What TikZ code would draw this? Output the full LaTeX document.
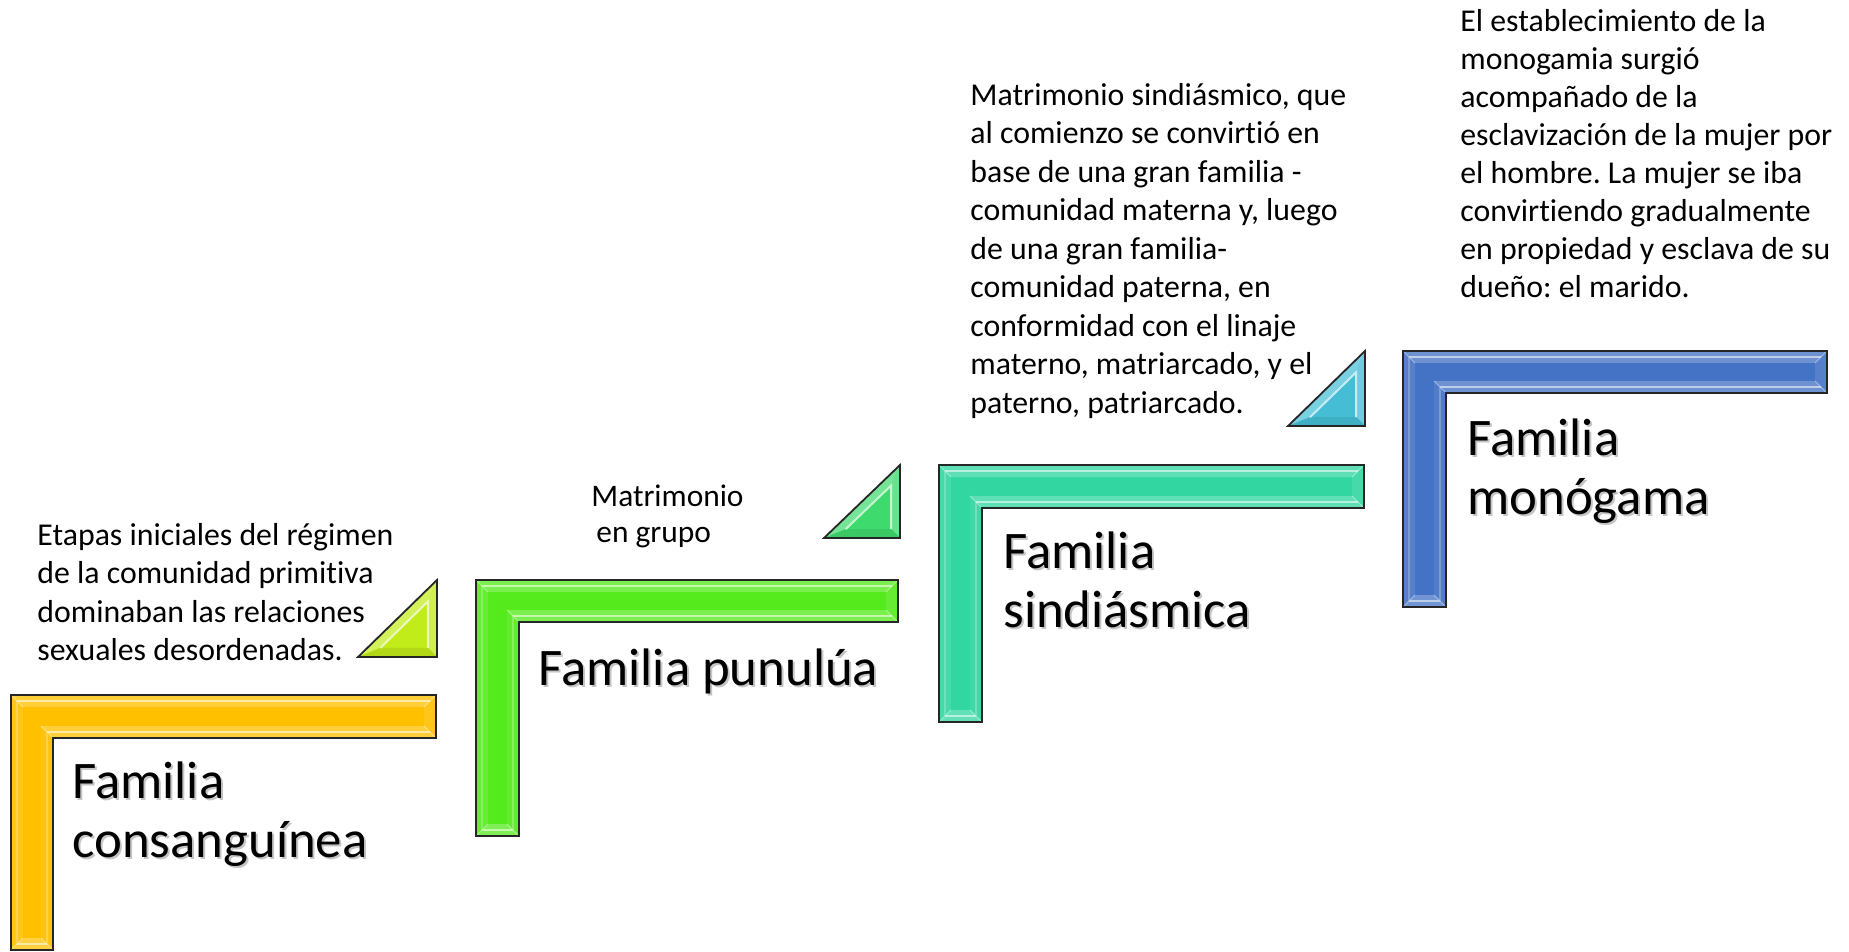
\documentclass[tikz,border=0pt]{standalone}
\usepackage{fontspec}
\setmainfont{Carlito}[Ligatures=NoCommon]
\usetikzlibrary{calc}
\definecolor{cgold}{HTML}{FFC000}
\definecolor{cgreen}{HTML}{55EA1C}
\definecolor{cteal}{HTML}{31D6A1}
\definecolor{cblue}{HTML}{4472C4}
\definecolor{tyel}{HTML}{C2EB1A}
\definecolor{tgrn}{HTML}{3FDA6E}
\definecolor{tcyn}{HTML}{45BED5}
\tikzset{
  title/.style={anchor=north west, inner sep=0pt, align=left, font=\fontsize{26.4}{29.5}\selectfont},
  titleshadow/.style={title, text=black!45, opacity=0.5},
  body/.style={anchor=north west, inner sep=0pt, align=left},
  outline/.style={draw=black!85, line width=0.9pt, line join=miter},
}
% L shaped beveled frame: #1 L, #2 T, #3 R, #4 Ti, #5 Li, #6 B, #7 colour
\newcommand\famframe[7]{%
  \coordinate (p1) at (#1,#2);
  \coordinate (p2) at (#3,#2);
  \coordinate (p3) at (#3,#4);
  \coordinate (p4) at (#5,#4);
  \coordinate (p5) at (#5,#6);
  \coordinate (p6) at (#1,#6);
  \coordinate (q1) at (#1+12,#2+12);
  \coordinate (q2) at (#3-12,#2+12);
  \coordinate (q3) at (#3-12,#4-12);
  \coordinate (q4) at (#5-12,#4-12);
  \coordinate (q5) at (#5-12,#6-12);
  \coordinate (q6) at (#1+12,#6-12);
  \coordinate (m1) at (#1+6,#2+6);
  \coordinate (m2) at (#3-6,#2+6);
  \coordinate (m3) at (#3-6,#4-6);
  \coordinate (m4) at (#5-6,#4-6);
  \coordinate (m5) at (#5-6,#6-6);
  \coordinate (m6) at (#1+6,#6-6);
  \fill[#7] (p1)--(p2)--(p3)--(p4)--(p5)--(p6)--cycle;
  \fill[#7!78!white] (p1)--(p2)--(q2)--(q1)--cycle;
  \fill[#7!78!white] (p3)--(p4)--(q4)--(q3)--cycle;
  \fill[#7!75!white] (p5)--(p6)--(q6)--(q5)--cycle;
  \fill[#7!90!white] (p2)--(p3)--(q3)--(q2)--cycle;
  \fill[#7!90!white] (p6)--(p1)--(q1)--(q6)--cycle;
  \fill[#7!93!white] (p4)--(p5)--(q5)--(q4)--cycle;
  \draw[#7!35!white, line width=1.3pt] (m1)--(m2) (m3)--(m4) (m5)--(m6);
  \draw[#7!70!white, line width=0.8pt] (m6)--(m1) (m4)--(m5);
  \draw[white, opacity=0.45, line width=0.5pt] (p1)--(q1) (p2)--(q2) (p3)--(q3) (p4)--(q4) (p5)--(q5) (p6)--(q6);
  \draw[outline] (p1)--(p2)--(p3)--(p4)--(p5)--(p6)--cycle;
}
% right triangle: #1 xl, #2 xr, #3 yt, #4 yb, #5 inradius, #6 colour
\newcommand\famtri[6]{%
  \coordinate (ta) at (#1,#4);
  \coordinate (tb) at (#2,#4);
  \coordinate (tc) at (#2,#3);
  \coordinate (ti) at (#2-#5,#4-#5);
  \coordinate (ua) at ($(ti)!0.6!(ta)$);
  \coordinate (ub) at ($(ti)!0.6!(tb)$);
  \coordinate (uc) at ($(ti)!0.6!(tc)$);
  \fill[#6] (ta)--(tb)--(tc)--cycle;
  \fill[#6!72!white] (ta)--(tc)--(uc)--(ua)--cycle;
  \fill[#6!78!white] (tb)--(tc)--(uc)--(ub)--cycle;
  \fill[#6!92!black] (ta)--(tb)--(ub)--(ua)--cycle;
  \draw[#6!30!white, line width=1pt] (ua)--(uc)--(ub);
  \draw[outline] (ta)--(tb)--(tc)--cycle;
}
\begin{document}
\frenchspacing
\begin{tikzpicture}[x=0.5pt,y=-0.5pt]
\useasboundingbox (0,0) rectangle (1849,952);
% frames
\famframe{11}{695}{436}{738}{53}{950}{cgold}
\famframe{476}{580}{898}{622}{519}{836}{cgreen}
\famframe{939}{465}{1364}{508}{982}{722}{cteal}
\famframe{1403}{351}{1827}{393}{1446}{607}{cblue}
% triangles
\famtri{358}{437}{580}{657}{23}{tyel}
\famtri{824}{900}{465}{538}{22}{tgrn}
\famtri{1288}{1365}{351}{426}{22}{tcyn}
% titles with soft shadow
\node[titleshadow] at (74,759) {\strut Familia\\consanguínea};
\node[title] (t1) at (72,757) {\strut Familia\\consanguínea};
\node[titleshadow] at (540,646) {\strut Familia punulúa};
\node[title] (t2) at (538,644) {\strut Familia punulúa};
\node[titleshadow] at (1005,529) {\strut Familia\\sindiásmica};
\node[title] (t3) at (1003,527) {\strut Familia\\sindiásmica};
\node[titleshadow] at (1469,416) {\strut Familia\\monógama};
\node[title] (t4) at (1467,414) {\strut Familia\\monógama};
% descriptions
\node[body, font=\fontsize{15.9}{19.25}\selectfont] (d1) at (37,518)
  {\strut Etapas iniciales del régimen\\de la comunidad primitiva\\dominaban las relaciones\\sexuales desordenadas.};
\node[body, font=\fontsize{15.7}{18}\selectfont] (d2) at (591,481)
  {\strut Matrimonio\\\hspace{2.5pt}en grupo};
\node[body, font=\fontsize{15.9}{19.25}\selectfont] (d3) at (970,78)
  {\strut Matrimonio sindiásmico, que\\al comienzo se convirtió en\\base de una gran familia -\\comunidad materna y, luego\\de una gran familia-\\comunidad paterna, en\\conformidad con el linaje\\materno, matriarcado, y el\\paterno, patriarcado.};
\node[body, font=\fontsize{15.9}{19}\selectfont] (d4) at (1460,5)
  {\strut El establecimiento de la\\monogamia surgió\\acompañado de la\\esclavización de la mujer por\\el hombre. La mujer se iba\\convirtiendo gradualmente\\en propiedad y esclava de su\\dueño: el marido.};
\end{tikzpicture}
\end{document}
